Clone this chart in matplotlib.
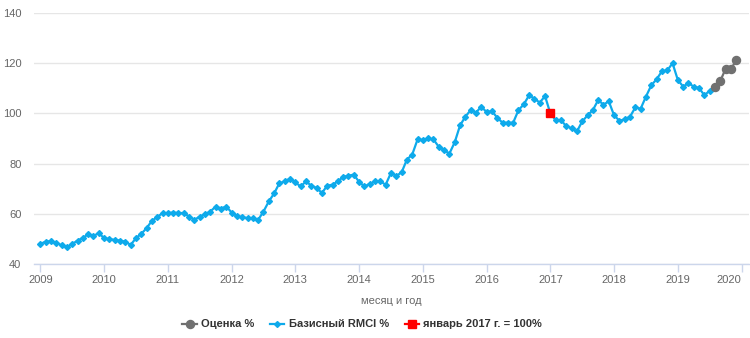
import matplotlib
matplotlib.use("Agg")
import matplotlib.pyplot as plt
import numpy as np

plt.rcParams["font.family"] = ["Liberation Sans", "DejaVu Sans"]

# monthly index values, Jan 2009 .. Jul 2019
rmci_values = [
    48.0, 48.9, 49.1, 48.4, 47.5, 46.7, 48.0, 49.3, 50.4, 51.8, 51.2, 52.3,   # 2009
    50.3, 49.9, 49.6, 49.3, 48.9, 47.6, 50.3, 52.0, 54.3, 57.2, 58.7, 60.3,   # 2010
    60.3, 60.5, 60.3, 60.3, 58.9, 57.6, 58.9, 59.8, 60.9, 62.9, 62.1, 62.9,   # 2011
    60.5, 59.1, 58.6, 58.3, 58.3, 57.6, 60.9, 64.9, 68.1, 72.2, 72.9, 74.0,   # 2012
    72.5, 70.9, 72.9, 71.2, 70.3, 68.3, 71.2, 71.6, 72.9, 74.7, 75.2, 75.6,   # 2013
    72.7, 70.9, 71.9, 72.9, 72.9, 71.6, 76.3, 75.1, 76.5, 81.6, 83.6, 89.6,   # 2014
    89.4, 90.0, 89.6, 86.7, 85.3, 84.0, 88.5, 95.2, 98.7, 101.3, 100.3, 102.7,  # 2015
    100.5, 100.9, 98.3, 96.3, 96.3, 96.3, 101.3, 103.6, 107.2, 105.9, 104.3, 106.9,  # 2016
    100.0, 97.3, 97.3, 94.9, 94.1, 92.8, 96.8, 99.2, 101.3, 105.3, 103.5, 104.8,  # 2017
    99.2, 97.1, 97.6, 98.7, 102.4, 101.9, 106.7, 111.2, 113.6, 116.8, 117.1, 120.0,  # 2018
    113.3, 110.7, 112.0, 110.7, 110.1, 107.2, 109.1,                          # 2019
]
# estimate, Aug .. Dec 2019
estimate_values = [110.6, 113.0, 117.8, 117.8, 121.1]
base_value = [100.0]  # January 2017

year_ticks = list(range(2009, 2021))
y_ticks = [40, 60, 80, 100, 120, 140]

C_RMCI = "#0eaaeb"
C_EST = "#707070"
C_BASE = "#ff0000"
C_TEXT = "#666666"

rmci_x = 2009 + np.arange(len(rmci_values)) / 12
est_x = 2009 + (len(rmci_values) + np.arange(len(estimate_values))) / 12
base_x = [2017.0]

fig = plt.figure(figsize=(7.5, 3.38), dpi=100)
ax = fig.add_axes([0.0453, 0.219, 0.9537, 0.7425])

ax.plot(rmci_x, rmci_values, color=C_RMCI, lw=1.6, marker="D", ms=3.0,
        mec=C_RMCI, mfc=C_RMCI, zorder=3, label="Базисный RMCI %")
ax.plot(est_x, estimate_values, color=C_EST, lw=1.6, marker="o", ms=5.8,
        mec=C_EST, mfc=C_EST, zorder=4, label="Оценка %")
ax.plot(base_x, base_value, color=C_BASE, lw=1.6, marker="s", ms=6.2,
        mec=C_BASE, mfc=C_BASE, zorder=5, label="январь 2017 г. = 100%")

ax.set_xlim(2008.9, 2020.12)
ax.set_ylim(40, 140)
ax.set_xticks(year_ticks)
ax.set_xticklabels([str(y) for y in year_ticks])
ax.get_xticklabels()[-1].set_horizontalalignment("right")
ax.set_yticks(y_ticks)

ax.grid(axis="y", color="#e6e6e6", lw=1)
ax.set_axisbelow(True)
for side in ("top", "right", "left"):
    ax.spines[side].set_visible(False)
ax.spines["bottom"].set_color("#ccd6eb")
ax.spines["bottom"].set_linewidth(1)
ax.tick_params(axis="x", colors="#ccd6eb", length=6, width=1, labelcolor=C_TEXT,
               labelsize=8, pad=2)
ax.tick_params(axis="y", length=0, labelcolor=C_TEXT, labelsize=8, pad=9)

ax.set_xlabel("месяц и год", color=C_TEXT, fontsize=8, labelpad=8)

handles, labels = ax.get_legend_handles_labels()
order = [1, 0, 2]
fig.legend([handles[i] for i in order], [labels[i] for i in order],
           loc="center", bbox_to_anchor=(0.483, 0.04), ncol=3, frameon=False,
           handlelength=1.3, columnspacing=1.4, handletextpad=0.4,
           prop={"weight": "bold", "size": 8}, labelcolor="#333333")

fig.savefig("out.png", dpi=100)
